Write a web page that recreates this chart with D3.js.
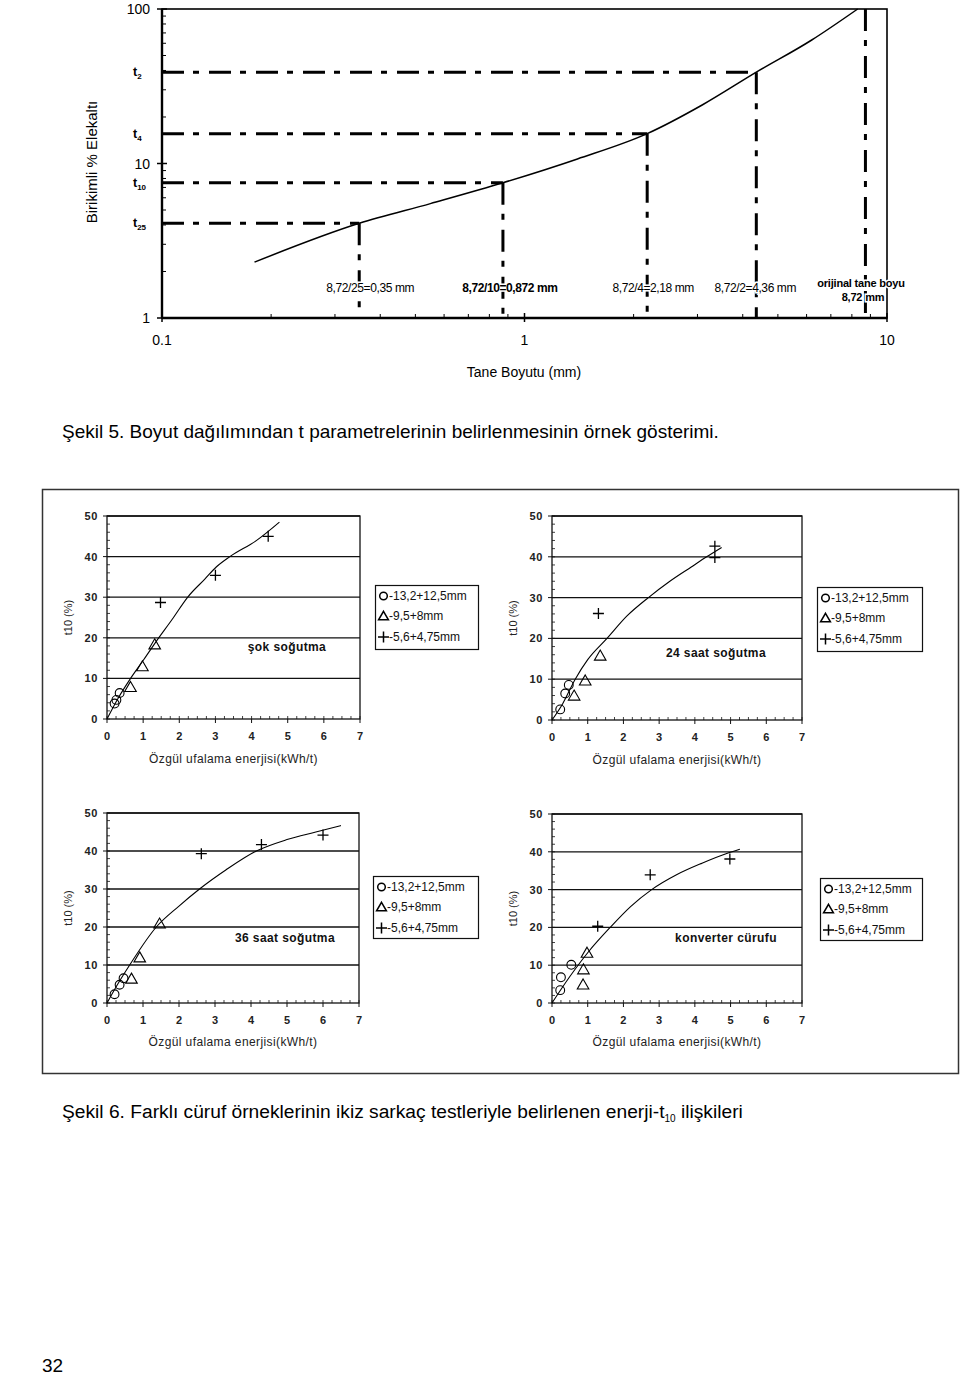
<!DOCTYPE html>
<html><head><meta charset="utf-8">
<script src="https://cdn.jsdelivr.net/npm/d3@7"></script>
<style>body{margin:0;background:#fff}svg{display:block;font-family:"Liberation Sans",Arial,sans-serif}</style>
</head><body><svg id="c" width="960" height="1377"></svg>
<script>
// ---------- Figure 5 data ----------
const topSizes   = [0.18, 0.35, 0.55, 0.872, 1.4, 2.18, 3.1, 4.36, 6.2, 8.3];
const topPassing = [2.3, 4.1, 5.5, 7.5, 10.7, 15.6, 24, 39, 63, 100];
const tNames  = ["2", "4", "10", "25"];
const tValues = [39, 15.6, 7.5, 4.1];
const tSizes  = [4.36, 2.18, 0.872, 0.35];
const sizeLabels = ["8,72/2=4,36 mm", "8,72/4=2,18 mm", "8,72/10=0,872 mm", "8,72/25=0,35 mm"];
const origSize = 8.72;
const topXTicks = [0.1, 1, 10];
const topYTicks = [1, 10, 100];

// ---------- Figure 6 data ----------
const panelTitles = ["şok soğutma", "24 saat soğutma", "36 saat soğutma", "konverter cürufu"];
const circleX = [[0.21,0.26,0.35],[0.23,0.37,0.47],[0.21,0.35,0.46],[0.23,0.25,0.54]];
const circleY = [[3.8,4.7,6.4],[2.6,6.5,8.6],[2.3,4.8,6.5],[3.4,6.8,10.1]];
const triX = [[0.65,0.98,1.32],[0.62,0.93,1.35],[0.68,0.91,1.46],[0.87,0.88,0.98]];
const triY = [[7.6,12.7,18.1],[5.7,9.4,15.5],[6.1,11.7,20.6],[4.6,8.6,13.0]];
const plusX = [[1.48,3.0,4.46],[1.3,4.56,4.56],[2.62,4.29,6.0],[1.28,2.75,4.98]];
const plusY = [[28.7,35.4,45.0],[26.1,42.6,39.8],[39.3,41.7,44.2],[20.3,33.9,38.1]];
const fitX = [
  [0,0.3,0.63,1.0,1.33,1.8,2.24,2.7,3.03,3.4,4.14,4.77],
  [0,0.3,0.65,1.0,1.54,2.1,2.7,3.3,3.9,4.33,4.75],
  [0,0.3,0.63,1.37,2.0,2.57,3.3,4.15,5.0,5.8,6.5],
  [0,0.5,1.0,1.63,2.2,2.79,3.5,4.2,4.93,5.26]];
const fitY = [
  [0,5,9.7,14.4,18.7,24.5,30.1,34.4,37.5,40,44,48.5],
  [0,4,10,14.8,20,25.5,30,34,37.5,40,42.3],
  [0,5,10,20,25.5,30,35,40,43,45,46.7],
  [0,7,13.3,20,25.5,30,34,37,39.7,40.7]];
const legendLabels = ["-13,2+12,5mm", "-9,5+8mm", "-5,6+4,75mm"];
const xTicks6 = [0,1,2,3,4,5,6,7];
const yTicks6 = [0,10,20,30,40,50];

const svg = d3.select("#c");
svg.append("rect").attr("width",960).attr("height",1377).attr("fill","#fff");

// ================= Figure 5 =================
const X = d3.scaleLog().domain([0.1,10]).range([162,887]);
const Y = d3.scaleLog().domain([1,100]).range([318,9]);
const g5 = svg.append("g");
const dashPat = "22,9,6,10";

g5.append("rect").attr("x",X(0.1)).attr("y",Y(100)).attr("width",X(10)-X(0.1)).attr("height",Y(1)-Y(100))
  .attr("fill","none").attr("stroke","#000").attr("stroke-width",1.6);
g5.append("line").attr("x1",X(0.1)).attr("x2",X(0.1)).attr("y1",Y(100)).attr("y2",Y(1)).attr("stroke","#000").attr("stroke-width",2.4);
g5.append("line").attr("x1",X(0.1)).attr("x2",X(10)).attr("y1",Y(1)).attr("y2",Y(1)).attr("stroke","#000").attr("stroke-width",2.4);

const minorX = [];
[0.1,1].forEach(d=>{for(let k=2;k<=9;k++) minorX.push(d*k);});
g5.selectAll(".mx").data(minorX).join("line").attr("x1",d=>X(d)).attr("x2",d=>X(d))
  .attr("y1",Y(1)).attr("y2",Y(1)-4).attr("stroke","#000").attr("stroke-width",1);
const minorY = [];
[1,10].forEach(d=>{for(let k=2;k<=9;k++) minorY.push(d*k);});
g5.selectAll(".my").data(minorY).join("line").attr("y1",d=>Y(d)).attr("y2",d=>Y(d))
  .attr("x1",X(0.1)).attr("x2",X(0.1)+4).attr("stroke","#000").attr("stroke-width",1);
g5.selectAll(".MX").data(topXTicks).join("line").attr("x1",d=>X(d)).attr("x2",d=>X(d))
  .attr("y1",Y(1)-5).attr("y2",Y(1)+4).attr("stroke","#000").attr("stroke-width",1.5);
g5.selectAll(".MY").data(topYTicks).join("line").attr("y1",d=>Y(d)).attr("y2",d=>Y(d))
  .attr("x1",X(0.1)-5).attr("x2",X(0.1)+5).attr("stroke","#000").attr("stroke-width",1.5);

g5.selectAll(".xl").data(topXTicks).join("text").attr("x",d=>X(d)).attr("y",345)
  .attr("text-anchor","middle").attr("font-size",14).text(d=>d===0.1?"0.1":String(d));
g5.selectAll(".yl").data(topYTicks).join("text").attr("x",150).attr("y",d=>Y(d)+5)
  .attr("text-anchor","end").attr("font-size",14).text(d=>String(d));
g5.append("text").attr("x",524).attr("y",377).attr("text-anchor","middle").attr("font-size",14).text("Tane Boyutu (mm)");
g5.append("text").attr("transform","translate(97,162) rotate(-90)").attr("text-anchor","middle")
  .attr("font-size",15).text("Birikimli % Elekaltı");

tNames.forEach((n,i)=>{
  const t = g5.append("text").attr("x",133).attr("y",Y(tValues[i])+4).attr("font-size",12.5).attr("font-weight","bold");
  t.append("tspan").text("t");
  t.append("tspan").attr("font-size",8).attr("dy",3).text(n);
});

tValues.forEach((v,i)=>{
  g5.append("line").attr("x1",X(0.1)).attr("x2",X(tSizes[i])).attr("y1",Y(v)).attr("y2",Y(v))
    .attr("stroke","#000").attr("stroke-width",3).attr("stroke-dasharray",dashPat);
  g5.append("line").attr("x1",X(tSizes[i])).attr("x2",X(tSizes[i])).attr("y1",Y(v)).attr("y2",Y(1))
    .attr("stroke","#000").attr("stroke-width",3).attr("stroke-dasharray",dashPat);
});
g5.append("line").attr("x1",X(origSize)).attr("x2",X(origSize)).attr("y1",Y(100)).attr("y2",Y(1))
  .attr("stroke","#000").attr("stroke-width",3).attr("stroke-dasharray",dashPat);

g5.append("path").datum(topSizes.map((s,i)=>[s,topPassing[i]]))
  .attr("d",d3.line().x(d=>X(d[0])).y(d=>Y(d[1])).curve(d3.curveMonotoneX))
  .attr("fill","none").attr("stroke","#000").attr("stroke-width",1.5);

// size labels (white halo over dashed verticals)
const labOffset = [-1, 6, 7, 11];
sizeLabels.forEach((s,i)=>{
  g5.append("text").attr("x",X(tSizes[i])+labOffset[i]).attr("y",292).attr("text-anchor","middle")
    .attr("font-size",12).attr("font-weight", i===2?"bold":"normal").attr("letter-spacing",-0.4)
    .attr("stroke","#fff").attr("stroke-width",3).attr("paint-order","stroke").text(s);
});
["orijinal tane boyu","8,72 mm"].forEach((s,j)=>{
  g5.append("text").attr("x",j?863:861).attr("y",j?301:287).attr("text-anchor","middle").attr("font-size",11)
    .attr("font-weight","bold").attr("letter-spacing",-0.2)
    .attr("stroke","#fff").attr("stroke-width",3).attr("paint-order","stroke").text(s);
});

// caption 5
svg.append("text").attr("x",62).attr("y",438).attr("font-size",19)
  .text("Şekil 5. Boyut dağılımından t parametrelerinin belirlenmesinin örnek gösterimi.");

// ================= Figure 6 =================
svg.append("rect").attr("x",42.5).attr("y",489.5).attr("width",916).attr("height",584)
  .attr("fill","none").attr("stroke","#333").attr("stroke-width",1.5);

const panels = [
  {x0:107,x1:360,y0:719,y1:516, leg:[375,585,103,64], title:[287,651], xt:740, xl:763},
  {x0:552,x1:802,y0:720,y1:516, leg:[817,587,105,64], title:[716,657], xt:741, xl:764},
  {x0:107,x1:359,y0:1003,y1:813, leg:[373,876,105,62], title:[285,942], xt:1024, xl:1046},
  {x0:552,x1:802,y0:1003,y1:814, leg:[820,878,102,62], title:[726,942], xt:1024, xl:1046}
];
const tri = d3.symbol().type(d3.symbolTriangle).size(58);

panels.forEach((p,i)=>{
  const g = svg.append("g");
  const x = d3.scaleLinear().domain([0,7]).range([p.x0,p.x1]);
  const y = d3.scaleLinear().domain([0,50]).range([p.y0,p.y1]);
  g.selectAll(".gr").data(yTicks6.filter(d=>d>0)).join("line")
    .attr("x1",x(0)).attr("x2",x(7)).attr("y1",d=>y(d)).attr("y2",d=>y(d))
    .attr("stroke","#111").attr("stroke-width",1.3);
  g.append("rect").attr("x",x(0)).attr("y",y(50)).attr("width",x(7)-x(0)).attr("height",y(0)-y(50))
    .attr("fill","none").attr("stroke","#111").attr("stroke-width",1.3);
  g.selectAll(".mxt").data(d3.range(0,7.01,0.25)).join("line")
    .attr("x1",d=>x(d)).attr("x2",d=>x(d)).attr("y1",y(0)).attr("y2",y(0)-3).attr("stroke","#111").attr("stroke-width",0.8);
  g.selectAll(".myt").data(d3.range(0,50.1,2)).join("line")
    .attr("y1",d=>y(d)).attr("y2",d=>y(d)).attr("x1",x(0)).attr("x2",x(0)+3).attr("stroke","#111").attr("stroke-width",0.8);
  g.selectAll(".Mxt").data(xTicks6).join("line")
    .attr("x1",d=>x(d)).attr("x2",d=>x(d)).attr("y1",y(0)).attr("y2",y(0)+4).attr("stroke","#111").attr("stroke-width",1);
  g.selectAll(".Myt").data(yTicks6).join("line")
    .attr("y1",d=>y(d)).attr("y2",d=>y(d)).attr("x1",x(0)-4).attr("x2",x(0)).attr("stroke","#111").attr("stroke-width",1);
  g.selectAll(".xlab").data(xTicks6).join("text").attr("x",d=>x(d)).attr("y",p.xt)
    .attr("text-anchor","middle").attr("font-size",11).attr("font-weight","bold").attr("fill","#222").text(d=>d);
  g.selectAll(".ylab").data(yTicks6).join("text").attr("x",x(0)-9).attr("y",d=>y(d)+4)
    .attr("text-anchor","end").attr("font-size",11).attr("font-weight","bold").attr("letter-spacing",0.6).attr("fill","#222").text(d=>d);
  g.append("text").attr("x",(x(0)+x(7))/2).attr("y",p.xl).attr("text-anchor","middle")
    .attr("font-size",12).attr("letter-spacing",0.4).attr("fill","#222").text("Özgül ufalama enerjisi(kWh/t)");
  g.append("text").attr("transform",`translate(${x(0)-35},${y(25)}) rotate(-90)`).attr("text-anchor","middle")
    .attr("font-size",11).attr("fill","#222").text("t10 (%)");
  g.append("text").attr("x",p.title[0]).attr("y",p.title[1]).attr("text-anchor","middle")
    .attr("font-size",12).attr("font-weight","bold").attr("letter-spacing",0.4).attr("fill","#111").text(panelTitles[i]);
  g.append("path").datum(fitX[i].map((v,j)=>[v,fitY[i][j]]))
    .attr("d",d3.line().x(d=>x(d[0])).y(d=>y(d[1])).curve(d3.curveMonotoneX))
    .attr("fill","none").attr("stroke","#000").attr("stroke-width",1.1);
  g.selectAll(".ci").data(circleX[i].map((v,j)=>[v,circleY[i][j]])).join("circle")
    .attr("cx",d=>x(d[0])).attr("cy",d=>y(d[1])).attr("r",4.4)
    .attr("fill","none").attr("stroke","#000").attr("stroke-width",1.1);
  g.selectAll(".tr").data(triX[i].map((v,j)=>[v,triY[i][j]])).join("path")
    .attr("transform",d=>`translate(${x(d[0])},${y(d[1])})`).attr("d",tri)
    .attr("fill","none").attr("stroke","#000").attr("stroke-width",1.1);
  g.selectAll(".pl").data(plusX[i].map((v,j)=>[v,plusY[i][j]])).join("path")
    .attr("d",d=>{const cx=x(d[0]),cy=y(d[1]);return `M${cx-5.5},${cy}H${cx+5.5}M${cx},${cy-5.5}V${cy+5.5}`;})
    .attr("stroke","#000").attr("stroke-width",1.3).attr("fill","none");
  const [lx,ly,lw,lh] = p.leg;
  const lg = g.append("g");
  lg.append("rect").attr("x",lx+0.5).attr("y",ly+0.5).attr("width",lw).attr("height",lh)
    .attr("fill","#fff").attr("stroke","#111").attr("stroke-width",1.2);
  const rows = [ly+11, ly+31, ly+52];
  lg.append("circle").attr("cx",lx+8.5).attr("cy",rows[0]).attr("r",3.8).attr("fill","none").attr("stroke","#000").attr("stroke-width",1.5);
  lg.append("path").attr("transform",`translate(${lx+8.5},${rows[1]+1})`).attr("d",d3.symbol().type(d3.symbolTriangle).size(42))
    .attr("fill","none").attr("stroke","#000").attr("stroke-width",1.5);
  lg.append("path").attr("d",`M${lx+3},${rows[2]}H${lx+14}M${lx+8.5},${rows[2]-5.5}V${rows[2]+5.5}`).attr("stroke","#000").attr("stroke-width",1.5);
  legendLabels.forEach((t,j)=>{
    lg.append("text").attr("x",lx+14).attr("y",rows[j]+4).attr("font-size",12).attr("fill","#111").text(t);
  });
});

// caption 6
const cap6 = svg.append("text").attr("x",62).attr("y",1118).attr("font-size",19.2);
cap6.append("tspan").text("Şekil 6. Farklı cüruf örneklerinin ikiz sarkaç testleriyle belirlenen enerji-t");
cap6.append("tspan").attr("font-size",10).attr("dy",4).text("10");
cap6.append("tspan").attr("dy",-4).text(" ilişkileri");

svg.append("text").attr("x",42).attr("y",1372).attr("font-size",19).text("32");
</script></body></html>
